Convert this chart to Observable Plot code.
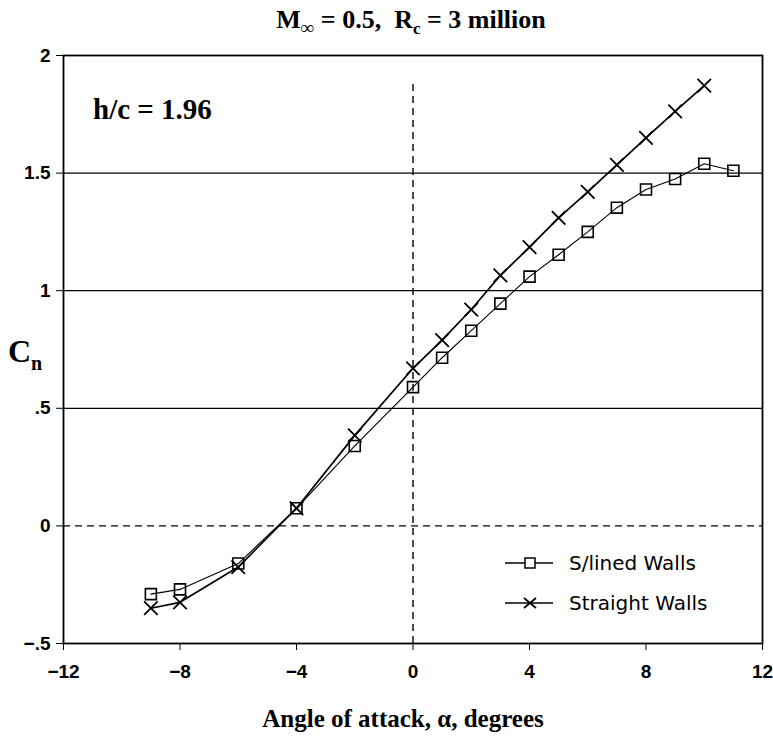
<!DOCTYPE html>
<html><head><meta charset="utf-8">
<script src="https://cdn.jsdelivr.net/npm/d3@7"></script>
<script src="https://cdn.jsdelivr.net/npm/@observablehq/plot@0.6"></script>
<style>
body{margin:0;background:#fff}
#chart{width:773px;height:737px}
</style>
</head><body><div id="chart"></div>
<script>
// ---- data ----
const alphaSlined = [-9,-8,-6,-4,-2,0,1,2,3,4,5,6,7,8,9,10,11];
const cnSlined    = [-0.29,-0.27,-0.16,0.075,0.34,0.59,0.715,0.83,0.945,1.06,1.153,1.25,1.353,1.43,1.475,1.54,1.51];
const alphaStraight = [-9,-8,-6,-4,-2,0,1,2,3,4,5,6,7,8,9,10];
const cnStraight    = [-0.35,-0.325,-0.175,0.075,0.385,0.67,0.79,0.92,1.065,1.185,1.31,1.42,1.535,1.65,1.762,1.872];
const seriesNames = ["S/lined Walls","Straight Walls"];
const xTicks = [-12,-8,-4,0,4,8,12];
const xTickLabels = ["\u221212","\u22128","\u22124","0","4","8","12"];
const yTicks = [-0.5,0,0.5,1,1.5,2];
const yTickLabels = ["\u2212.5","0",".5","1","1.5","2"];
const gridLevels = [0.5,1,1.5];
const zeroLineTop = [1.88];
const titleParts = ["M","\u221e"," = 0.5,  R","c"," = 3 million"];
const annotation = "h/c = 1.96";
const yLabel = ["C","n"];
const xLabel = "Angle of attack, \u03b1, degrees";

const slined = alphaSlined.map((a,i)=>({alpha:a, cn:cnSlined[i]}));
const straight = alphaStraight.map((a,i)=>({alpha:a, cn:cnStraight[i]}));

const W = 773, H = 737;
const serif = "'Liberation Serif','Times New Roman',serif";
const sans = "'Liberation Sans',Arial,sans-serif";

const svg = Plot.plot({
  width: W, height: H,
  marginLeft: 63, marginRight: 11, marginTop: 55, marginBottom: 94,
  style: {fontFamily: sans, fontSize: "19px", fontWeight: "bold", color: "black", background: "white", overflow: "visible"},
  x: {domain: [-12,12], ticks: xTicks, tickFormat: d => xTickLabels[xTicks.indexOf(d)], tickSize: 7, tickPadding: 14, label: null},
  y: {domain: [-0.5,2], ticks: yTicks, tickFormat: d => yTickLabels[yTicks.indexOf(d)], tickSize: 7, tickPadding: 6, label: null},
  marks: [
    Plot.ruleY(gridLevels, {stroke: "black", strokeWidth: 1.3}),
    Plot.ruleY([0], {stroke: "black", strokeWidth: 1.4, strokeDasharray: "7,5"}),
    Plot.ruleX([0], {y1: -0.5, y2: zeroLineTop[0], stroke: "black", strokeWidth: 1.4, strokeDasharray: "7,5"}),
    Plot.frame({stroke: "black", strokeWidth: 1.8}),
    Plot.line(slined, {x: "alpha", y: "cn", stroke: "black", strokeWidth: 1.1}),
    Plot.line(straight, {x: "alpha", y: "cn", stroke: "black", strokeWidth: 1.7}),
    Plot.dot(slined, {x: "alpha", y: "cn", symbol: "square", r: 6.2, stroke: "black", strokeWidth: 1.6, fill: "none"}),
    Plot.dot(straight, {x: "alpha", y: "cn", symbol: "times", r: 6.2, stroke: "black", strokeWidth: 1.8})
  ]
});
document.getElementById("chart").appendChild(svg);

const s = d3.select(svg);
// Title
const t = s.append("text").attr("x", 411).attr("y", 28).attr("text-anchor", "middle")
  .style("font-family", serif).style("font-weight", "bold").style("font-size", "26px").style("white-space", "pre");
t.append("tspan").text(titleParts[0]);
t.append("tspan").attr("dy", 6).style("font-size", "19px").text(titleParts[1]);
t.append("tspan").attr("dy", -6).text(titleParts[2]);
t.append("tspan").attr("dy", 6).style("font-size", "17px").text(titleParts[3]);
t.append("tspan").attr("dy", -6).text(titleParts[4]);

// annotation
s.append("text").attr("x", 93).attr("y", 119).attr("text-anchor", "start")
  .style("font-family", serif).style("font-weight", "bold").style("font-size", "29px").style("white-space", "pre")
  .text(annotation);

// y label
const yl = s.append("text").attr("x", 8).attr("y", 362).attr("text-anchor", "start")
  .style("font-family", serif).style("font-weight", "bold").style("font-size", "32px");
yl.append("tspan").text(yLabel[0]);
yl.append("tspan").attr("dy", 8).style("font-size", "20px").text(yLabel[1]);

// x label
s.append("text").attr("x", 403).attr("y", 727).attr("text-anchor", "middle")
  .style("font-family", serif).style("font-weight", "bold").style("font-size", "25px")
  .text(xLabel);

// legend
const lg = s.append("g").style("font-family", "'DejaVu Sans',sans-serif").style("font-size", "20px").style("font-weight", "normal");
const legY = [563, 603];
seriesNames.forEach((name, i) => {
  const y = legY[i];
  lg.append("line").attr("x1", 505).attr("x2", 553).attr("y1", y).attr("y2", y).attr("stroke", "black").attr("stroke-width", 1.5);
  if (i === 0) {
    lg.append("rect").attr("x", 525).attr("y", y - 5).attr("width", 10).attr("height", 10).attr("fill", "white").attr("stroke", "black").attr("stroke-width", 1.5);
  } else {
    lg.append("path").attr("d", `M524,${y-5}L536,${y+5}M524,${y+5}L536,${y-5}`).attr("stroke", "black").attr("stroke-width", 1.8);
  }
  lg.append("text").attr("x", 569).attr("y", y + 7).attr("text-anchor", "start").text(name);
});
</script>
</body></html>
